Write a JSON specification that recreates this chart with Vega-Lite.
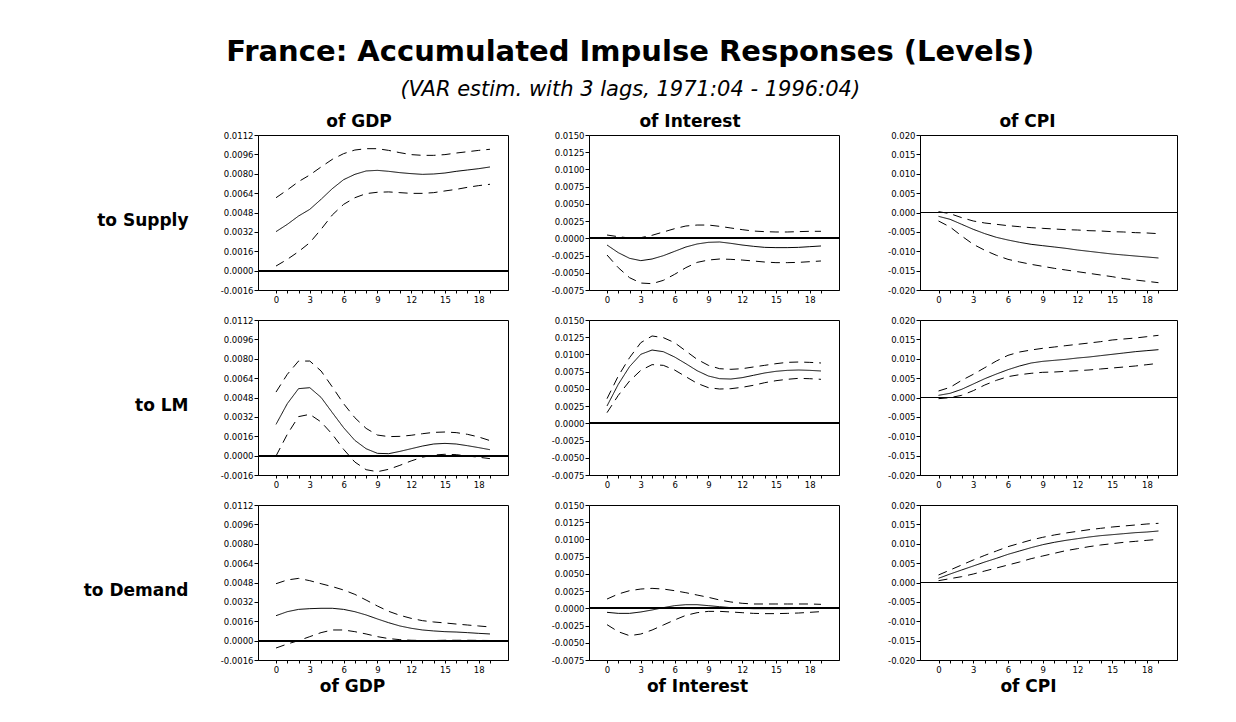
{
  "$schema": "https://vega.github.io/schema/vega-lite/v6.json",
  "padding": {"left": 82, "top": 37, "right": 20, "bottom": 10},
  "background": "white",
  "title": {
    "text": "France: Accumulated Impulse Responses (Levels)",
    "subtitle": "(VAR estim. with 3 lags, 1971:04 - 1996:04)",
    "font": "DejaVu Sans", "fontSize": 29, "fontWeight": "bold", "color": "black",
    "subtitleFont": "DejaVu Sans", "subtitleFontSize": 21, "subtitleFontStyle": "italic", "subtitleColor": "black",
    "anchor": "middle", "offset": 13, "subtitlePadding": 12
  },
  "config": {
    "locale": {"number": {"decimal": ".", "thousands": ",", "grouping": [3], "currency": ["$", ""], "minus": "-"}},
    "view": {"stroke": "black", "strokeWidth": 1},
    "line": {"color": "black", "strokeWidth": 1},
    "rule": {"color": "black", "strokeWidth": 0.7},
    "axis": {"grid": false, "labelOverlap": false, "labelBound": false, "labelFlush": false, "domainColor": "black", "tickColor": "black", "labelColor": "black", "labelFont": "DejaVu Sans", "labelFontSize": 8.5, "titleColor": "black", "titleFont": "DejaVu Sans", "titleFontSize": 17, "titleFontWeight": "bold"},
    "axisY": {"tickSize": 4, "labelPadding": 1, "titleAngle": 0, "titleAlign": "right", "titleBaseline": "middle", "titleX": -70, "titleY": 85},
    "axisX": {"tickSize": 3, "labelPadding": 2, "titleBaseline": "alphabetic", "titleAlign": "center", "titleY": 31}
  },
  "data": {"values": [
    {"r":"Supply","c":"GDP","h":0,"m":0.00322,"lo":0.00038,"hi":0.00602},
    {"r":"Supply","c":"GDP","h":1,"m":0.00382,"lo":0.00093,"hi":0.00666},
    {"r":"Supply","c":"GDP","h":2,"m":0.00451,"lo":0.00157,"hi":0.00735},
    {"r":"Supply","c":"GDP","h":3,"m":0.00506,"lo":0.00231,"hi":0.0079},
    {"r":"Supply","c":"GDP","h":4,"m":0.00589,"lo":0.00341,"hi":0.00856},
    {"r":"Supply","c":"GDP","h":5,"m":0.00677,"lo":0.0046,"hi":0.00919},
    {"r":"Supply","c":"GDP","h":6,"m":0.00751,"lo":0.00547,"hi":0.00966},
    {"r":"Supply","c":"GDP","h":7,"m":0.00795,"lo":0.00602,"hi":0.00996},
    {"r":"Supply","c":"GDP","h":8,"m":0.00823,"lo":0.00636,"hi":0.01007},
    {"r":"Supply","c":"GDP","h":9,"m":0.00828,"lo":0.00647,"hi":0.01007},
    {"r":"Supply","c":"GDP","h":10,"m":0.0082,"lo":0.0065,"hi":0.00993},
    {"r":"Supply","c":"GDP","h":11,"m":0.00809,"lo":0.00644,"hi":0.00974},
    {"r":"Supply","c":"GDP","h":12,"m":0.00801,"lo":0.00638,"hi":0.00958},
    {"r":"Supply","c":"GDP","h":13,"m":0.00795,"lo":0.00638,"hi":0.00952},
    {"r":"Supply","c":"GDP","h":14,"m":0.00798,"lo":0.00644,"hi":0.00952},
    {"r":"Supply","c":"GDP","h":15,"m":0.00806,"lo":0.00658,"hi":0.00958},
    {"r":"Supply","c":"GDP","h":16,"m":0.0082,"lo":0.00671,"hi":0.00971},
    {"r":"Supply","c":"GDP","h":17,"m":0.00831,"lo":0.00688,"hi":0.00982},
    {"r":"Supply","c":"GDP","h":18,"m":0.00842,"lo":0.00702,"hi":0.00993},
    {"r":"Supply","c":"GDP","h":19,"m":0.00856,"lo":0.00713,"hi":0.01002},
    {"r":"Supply","c":"Interest","h":0,"m":-0.00097,"lo":-0.00242,"hi":0.00048},
    {"r":"Supply","c":"Interest","h":1,"m":-0.00208,"lo":-0.00426,"hi":0.00024},
    {"r":"Supply","c":"Interest","h":2,"m":-0.0029,"lo":-0.00571,"hi":0.00005},
    {"r":"Supply","c":"Interest","h":3,"m":-0.00324,"lo":-0.00649,"hi":0.0001},
    {"r":"Supply","c":"Interest","h":4,"m":-0.003,"lo":-0.00658,"hi":0.00044},
    {"r":"Supply","c":"Interest","h":5,"m":-0.00252,"lo":-0.0061,"hi":0.00092},
    {"r":"Supply","c":"Interest","h":6,"m":-0.00189,"lo":-0.00523,"hi":0.0014},
    {"r":"Supply","c":"Interest","h":7,"m":-0.00126,"lo":-0.00426,"hi":0.00179},
    {"r":"Supply","c":"Interest","h":8,"m":-0.00082,"lo":-0.00349,"hi":0.00193},
    {"r":"Supply","c":"Interest","h":9,"m":-0.00058,"lo":-0.00315,"hi":0.00193},
    {"r":"Supply","c":"Interest","h":10,"m":-0.00053,"lo":-0.003,"hi":0.00174},
    {"r":"Supply","c":"Interest","h":11,"m":-0.00073,"lo":-0.00305,"hi":0.0015},
    {"r":"Supply","c":"Interest","h":12,"m":-0.00097,"lo":-0.00315,"hi":0.00126},
    {"r":"Supply","c":"Interest","h":13,"m":-0.00116,"lo":-0.00329,"hi":0.00106},
    {"r":"Supply","c":"Interest","h":14,"m":-0.00131,"lo":-0.00344,"hi":0.00097},
    {"r":"Supply","c":"Interest","h":15,"m":-0.00135,"lo":-0.00353,"hi":0.00092},
    {"r":"Supply","c":"Interest","h":16,"m":-0.00135,"lo":-0.00353,"hi":0.00092},
    {"r":"Supply","c":"Interest","h":17,"m":-0.00131,"lo":-0.00349,"hi":0.00097},
    {"r":"Supply","c":"Interest","h":18,"m":-0.00121,"lo":-0.00339,"hi":0.00102},
    {"r":"Supply","c":"Interest","h":19,"m":-0.00111,"lo":-0.00329,"hi":0.00102},
    {"r":"Supply","c":"CPI","h":0,"m":-0.00099,"lo":-0.00219,"hi":0.00022},
    {"r":"Supply","c":"CPI","h":1,"m":-0.00176,"lo":-0.00374,"hi":-0.0003},
    {"r":"Supply","c":"CPI","h":2,"m":-0.00305,"lo":-0.00606,"hi":-0.00133},
    {"r":"Supply","c":"CPI","h":3,"m":-0.00434,"lo":-0.00821,"hi":-0.00219},
    {"r":"Supply","c":"CPI","h":4,"m":-0.00546,"lo":-0.00976,"hi":-0.00271},
    {"r":"Supply","c":"CPI","h":5,"m":-0.00641,"lo":-0.01105,"hi":-0.00305},
    {"r":"Supply","c":"CPI","h":6,"m":-0.0071,"lo":-0.01209,"hi":-0.0034},
    {"r":"Supply","c":"CPI","h":7,"m":-0.0077,"lo":-0.01277,"hi":-0.00366},
    {"r":"Supply","c":"CPI","h":8,"m":-0.00821,"lo":-0.01338,"hi":-0.00391},
    {"r":"Supply","c":"CPI","h":9,"m":-0.00856,"lo":-0.01389,"hi":-0.00409},
    {"r":"Supply","c":"CPI","h":10,"m":-0.0089,"lo":-0.01441,"hi":-0.00426},
    {"r":"Supply","c":"CPI","h":11,"m":-0.00925,"lo":-0.01484,"hi":-0.00443},
    {"r":"Supply","c":"CPI","h":12,"m":-0.00968,"lo":-0.01527,"hi":-0.00452},
    {"r":"Supply","c":"CPI","h":13,"m":-0.01002,"lo":-0.0157,"hi":-0.00469},
    {"r":"Supply","c":"CPI","h":14,"m":-0.01037,"lo":-0.01613,"hi":-0.00477},
    {"r":"Supply","c":"CPI","h":15,"m":-0.01071,"lo":-0.01656,"hi":-0.00495},
    {"r":"Supply","c":"CPI","h":16,"m":-0.01097,"lo":-0.01707,"hi":-0.00503},
    {"r":"Supply","c":"CPI","h":17,"m":-0.01123,"lo":-0.01742,"hi":-0.0052},
    {"r":"Supply","c":"CPI","h":18,"m":-0.01148,"lo":-0.01776,"hi":-0.00529},
    {"r":"Supply","c":"CPI","h":19,"m":-0.01174,"lo":-0.01811,"hi":-0.00546},
    {"r":"LM","c":"GDP","h":0,"m":0.00258,"lo":-0.00003,"hi":0.00525},
    {"r":"LM","c":"GDP","h":1,"m":0.00429,"lo":0.00176,"hi":0.00671},
    {"r":"LM","c":"GDP","h":2,"m":0.00553,"lo":0.00322,"hi":0.00781},
    {"r":"LM","c":"GDP","h":3,"m":0.00561,"lo":0.00341,"hi":0.00781},
    {"r":"LM","c":"GDP","h":4,"m":0.00481,"lo":0.00278,"hi":0.00699},
    {"r":"LM","c":"GDP","h":5,"m":0.00355,"lo":0.00176,"hi":0.00567},
    {"r":"LM","c":"GDP","h":6,"m":0.00231,"lo":0.00052,"hi":0.00429},
    {"r":"LM","c":"GDP","h":7,"m":0.00126,"lo":-0.00053,"hi":0.00313},
    {"r":"LM","c":"GDP","h":8,"m":0.00057,"lo":-0.00116,"hi":0.00225},
    {"r":"LM","c":"GDP","h":9,"m":0.00019,"lo":-0.00133,"hi":0.0017},
    {"r":"LM","c":"GDP","h":10,"m":0.00016,"lo":-0.00113,"hi":0.00157},
    {"r":"LM","c":"GDP","h":11,"m":0.00035,"lo":-0.0008,"hi":0.00159},
    {"r":"LM","c":"GDP","h":12,"m":0.00057,"lo":-0.00044,"hi":0.00168},
    {"r":"LM","c":"GDP","h":13,"m":0.00079,"lo":-0.00013,"hi":0.00181},
    {"r":"LM","c":"GDP","h":14,"m":0.00096,"lo":0.00005,"hi":0.00192},
    {"r":"LM","c":"GDP","h":15,"m":0.00101,"lo":0.00011,"hi":0.00195},
    {"r":"LM","c":"GDP","h":16,"m":0.00096,"lo":0.00008,"hi":0.0019},
    {"r":"LM","c":"GDP","h":17,"m":0.00082,"lo":-0.00003,"hi":0.00176},
    {"r":"LM","c":"GDP","h":18,"m":0.00066,"lo":-0.00013,"hi":0.00154},
    {"r":"LM","c":"GDP","h":19,"m":0.00049,"lo":-0.00025,"hi":0.00124},
    {"r":"LM","c":"Interest","h":0,"m":0.00252,"lo":0.00155,"hi":0.00358},
    {"r":"LM","c":"Interest","h":1,"m":0.00566,"lo":0.00406,"hi":0.00687},
    {"r":"LM","c":"Interest","h":2,"m":0.00823,"lo":0.00614,"hi":0.00953},
    {"r":"LM","c":"Interest","h":3,"m":0.01002,"lo":0.00769,"hi":0.01171},
    {"r":"LM","c":"Interest","h":4,"m":0.01064,"lo":0.00852,"hi":0.01268},
    {"r":"LM","c":"Interest","h":5,"m":0.0104,"lo":0.00842,"hi":0.01244},
    {"r":"LM","c":"Interest","h":6,"m":0.00963,"lo":0.00774,"hi":0.01171},
    {"r":"LM","c":"Interest","h":7,"m":0.00866,"lo":0.00677,"hi":0.0105},
    {"r":"LM","c":"Interest","h":8,"m":0.00764,"lo":0.00581,"hi":0.00929},
    {"r":"LM","c":"Interest","h":9,"m":0.00687,"lo":0.00518,"hi":0.00842},
    {"r":"LM","c":"Interest","h":10,"m":0.00648,"lo":0.00498,"hi":0.00793},
    {"r":"LM","c":"Interest","h":11,"m":0.00643,"lo":0.00503,"hi":0.00784},
    {"r":"LM","c":"Interest","h":12,"m":0.00663,"lo":0.00523,"hi":0.00793},
    {"r":"LM","c":"Interest","h":13,"m":0.00697,"lo":0.00552,"hi":0.00818},
    {"r":"LM","c":"Interest","h":14,"m":0.00731,"lo":0.0059,"hi":0.00842},
    {"r":"LM","c":"Interest","h":15,"m":0.00755,"lo":0.00619,"hi":0.00866},
    {"r":"LM","c":"Interest","h":16,"m":0.00769,"lo":0.00639,"hi":0.00885},
    {"r":"LM","c":"Interest","h":17,"m":0.00774,"lo":0.00653,"hi":0.0089},
    {"r":"LM","c":"Interest","h":18,"m":0.00769,"lo":0.00648,"hi":0.00885},
    {"r":"LM","c":"Interest","h":19,"m":0.0076,"lo":0.00639,"hi":0.00876},
    {"r":"LM","c":"CPI","h":0,"m":0.00056,"lo":-0.0003,"hi":0.00168},
    {"r":"LM","c":"CPI","h":1,"m":0.00108,"lo":-0.00004,"hi":0.00262},
    {"r":"LM","c":"CPI","h":2,"m":0.00211,"lo":0.00056,"hi":0.00443},
    {"r":"LM","c":"CPI","h":3,"m":0.00348,"lo":0.00176,"hi":0.00598},
    {"r":"LM","c":"CPI","h":4,"m":0.00486,"lo":0.00323,"hi":0.0077},
    {"r":"LM","c":"CPI","h":5,"m":0.00606,"lo":0.00443,"hi":0.00942},
    {"r":"LM","c":"CPI","h":6,"m":0.00718,"lo":0.00538,"hi":0.01088},
    {"r":"LM","c":"CPI","h":7,"m":0.00813,"lo":0.00589,"hi":0.01174},
    {"r":"LM","c":"CPI","h":8,"m":0.0089,"lo":0.00624,"hi":0.01226},
    {"r":"LM","c":"CPI","h":9,"m":0.00933,"lo":0.0065,"hi":0.01269},
    {"r":"LM","c":"CPI","h":10,"m":0.00959,"lo":0.00658,"hi":0.01303},
    {"r":"LM","c":"CPI","h":11,"m":0.00985,"lo":0.00675,"hi":0.01338},
    {"r":"LM","c":"CPI","h":12,"m":0.01019,"lo":0.00692,"hi":0.01372},
    {"r":"LM","c":"CPI","h":13,"m":0.01045,"lo":0.0071,"hi":0.01406},
    {"r":"LM","c":"CPI","h":14,"m":0.0108,"lo":0.00736,"hi":0.01441},
    {"r":"LM","c":"CPI","h":15,"m":0.01114,"lo":0.00761,"hi":0.01484},
    {"r":"LM","c":"CPI","h":16,"m":0.01148,"lo":0.00787,"hi":0.0151},
    {"r":"LM","c":"CPI","h":17,"m":0.01183,"lo":0.00813,"hi":0.01535},
    {"r":"LM","c":"CPI","h":18,"m":0.01209,"lo":0.00847,"hi":0.0157},
    {"r":"LM","c":"CPI","h":19,"m":0.01234,"lo":0.00882,"hi":0.01604},
    {"r":"Demand","c":"GDP","h":0,"m":0.00206,"lo":-0.00061,"hi":0.0047},
    {"r":"Demand","c":"GDP","h":1,"m":0.00239,"lo":-0.00028,"hi":0.00501},
    {"r":"Demand","c":"GDP","h":2,"m":0.00258,"lo":0.0,"hi":0.00514},
    {"r":"Demand","c":"GDP","h":3,"m":0.00264,"lo":0.00033,"hi":0.00495},
    {"r":"Demand","c":"GDP","h":4,"m":0.00267,"lo":0.00066,"hi":0.0047},
    {"r":"Demand","c":"GDP","h":5,"m":0.00267,"lo":0.00088,"hi":0.00446},
    {"r":"Demand","c":"GDP","h":6,"m":0.00258,"lo":0.00088,"hi":0.00418},
    {"r":"Demand","c":"GDP","h":7,"m":0.00239,"lo":0.00074,"hi":0.00382},
    {"r":"Demand","c":"GDP","h":8,"m":0.00212,"lo":0.00055,"hi":0.00335},
    {"r":"Demand","c":"GDP","h":9,"m":0.00179,"lo":0.00033,"hi":0.00286},
    {"r":"Demand","c":"GDP","h":10,"m":0.00148,"lo":0.00017,"hi":0.00242},
    {"r":"Demand","c":"GDP","h":11,"m":0.00121,"lo":0.00008,"hi":0.00209},
    {"r":"Demand","c":"GDP","h":12,"m":0.00102,"lo":0.00003,"hi":0.00184},
    {"r":"Demand","c":"GDP","h":13,"m":0.00088,"lo":0.00001,"hi":0.00165},
    {"r":"Demand","c":"GDP","h":14,"m":0.0008,"lo":0.00001,"hi":0.00154},
    {"r":"Demand","c":"GDP","h":15,"m":0.00074,"lo":0.00003,"hi":0.00146},
    {"r":"Demand","c":"GDP","h":16,"m":0.00071,"lo":0.00003,"hi":0.00137},
    {"r":"Demand","c":"GDP","h":17,"m":0.00066,"lo":0.00003,"hi":0.00129},
    {"r":"Demand","c":"GDP","h":18,"m":0.0006,"lo":0.00002,"hi":0.00121},
    {"r":"Demand","c":"GDP","h":19,"m":0.00055,"lo":0.00001,"hi":0.00113},
    {"r":"Demand","c":"Interest","h":0,"m":-0.00058,"lo":-0.00237,"hi":0.00135},
    {"r":"Demand","c":"Interest","h":1,"m":-0.00073,"lo":-0.00339,"hi":0.00208},
    {"r":"Demand","c":"Interest","h":2,"m":-0.00073,"lo":-0.00397,"hi":0.00256},
    {"r":"Demand","c":"Interest","h":3,"m":-0.00053,"lo":-0.00373,"hi":0.0028},
    {"r":"Demand","c":"Interest","h":4,"m":-0.00024,"lo":-0.00315,"hi":0.0029},
    {"r":"Demand","c":"Interest","h":5,"m":0.0001,"lo":-0.00242,"hi":0.0028},
    {"r":"Demand","c":"Interest","h":6,"m":0.00039,"lo":-0.00169,"hi":0.00256},
    {"r":"Demand","c":"Interest","h":7,"m":0.00053,"lo":-0.00102,"hi":0.00227},
    {"r":"Demand","c":"Interest","h":8,"m":0.00053,"lo":-0.00063,"hi":0.00193},
    {"r":"Demand","c":"Interest","h":9,"m":0.00039,"lo":-0.00044,"hi":0.0016},
    {"r":"Demand","c":"Interest","h":10,"m":0.00024,"lo":-0.00044,"hi":0.00121},
    {"r":"Demand","c":"Interest","h":11,"m":0.0001,"lo":-0.00053,"hi":0.00092},
    {"r":"Demand","c":"Interest","h":12,"m":0.0,"lo":-0.00063,"hi":0.00073},
    {"r":"Demand","c":"Interest","h":13,"m":-0.00005,"lo":-0.00073,"hi":0.00063},
    {"r":"Demand","c":"Interest","h":14,"m":-0.00005,"lo":-0.00077,"hi":0.00063},
    {"r":"Demand","c":"Interest","h":15,"m":-0.00005,"lo":-0.00077,"hi":0.00063},
    {"r":"Demand","c":"Interest","h":16,"m":-0.00005,"lo":-0.00073,"hi":0.00063},
    {"r":"Demand","c":"Interest","h":17,"m":0.0,"lo":-0.00068,"hi":0.00063},
    {"r":"Demand","c":"Interest","h":18,"m":0.0,"lo":-0.00058,"hi":0.00063},
    {"r":"Demand","c":"Interest","h":19,"m":0.00005,"lo":-0.00048,"hi":0.00058},
    {"r":"Demand","c":"CPI","h":0,"m":0.00108,"lo":0.00047,"hi":0.00194},
    {"r":"Demand","c":"CPI","h":1,"m":0.00219,"lo":0.00099,"hi":0.00323},
    {"r":"Demand","c":"CPI","h":2,"m":0.00323,"lo":0.00151,"hi":0.00452},
    {"r":"Demand","c":"CPI","h":3,"m":0.00426,"lo":0.00219,"hi":0.00581},
    {"r":"Demand","c":"CPI","h":4,"m":0.00529,"lo":0.00297,"hi":0.00701},
    {"r":"Demand","c":"CPI","h":5,"m":0.00624,"lo":0.00374,"hi":0.00813},
    {"r":"Demand","c":"CPI","h":6,"m":0.00727,"lo":0.00452,"hi":0.00925},
    {"r":"Demand","c":"CPI","h":7,"m":0.00813,"lo":0.00529,"hi":0.01011},
    {"r":"Demand","c":"CPI","h":8,"m":0.00899,"lo":0.00615,"hi":0.01097},
    {"r":"Demand","c":"CPI","h":9,"m":0.00976,"lo":0.00684,"hi":0.01166},
    {"r":"Demand","c":"CPI","h":10,"m":0.01037,"lo":0.00753,"hi":0.01226},
    {"r":"Demand","c":"CPI","h":11,"m":0.01088,"lo":0.00822,"hi":0.01277},
    {"r":"Demand","c":"CPI","h":12,"m":0.01131,"lo":0.00873,"hi":0.0132},
    {"r":"Demand","c":"CPI","h":13,"m":0.01174,"lo":0.00925,"hi":0.01363},
    {"r":"Demand","c":"CPI","h":14,"m":0.01209,"lo":0.00968,"hi":0.01398},
    {"r":"Demand","c":"CPI","h":15,"m":0.01234,"lo":0.01002,"hi":0.01432},
    {"r":"Demand","c":"CPI","h":16,"m":0.0126,"lo":0.01037,"hi":0.01458},
    {"r":"Demand","c":"CPI","h":17,"m":0.01286,"lo":0.01062,"hi":0.01484},
    {"r":"Demand","c":"CPI","h":18,"m":0.01303,"lo":0.01088,"hi":0.0151},
    {"r":"Demand","c":"CPI","h":19,"m":0.01329,"lo":0.01114,"hi":0.01527}
  ]},
  "bounds": "flush",
  "columns": 3,
  "spacing": {"row": 30, "column": 81},
  "concat": [
    {"width": 250, "height": 155,
     "title": {"text": "of GDP", "font": "DejaVu Sans", "fontSize": 17, "fontWeight": "bold", "color": "black", "anchor": "middle", "dx": -24, "offset": 0},
     "transform": [{"filter": "datum.r == 'Supply' && datum.c == 'GDP'"}, {"fold": ["hi", "m", "lo"], "as": ["s", "v"]}],
     "layer": [
       {"mark": "rule", "encoding": {"y": {"datum": 0, "type": "quantitative"}}},
       {"mark": "line", "encoding": {
         "x": {"field": "h", "type": "quantitative", "scale": {"domain": [-1.6, 20.6], "nice": false, "zero": false}, "axis": {"title": null, "tickCount": 40, "format": "d", "values": [0,1,2,3,4,5,6,7,8,9,10,11,12,13,14,15,16,17,18,19], "labelExpr": "datum.value % 3 == 0 ? datum.label : ''"}},
         "y": {"field": "v", "type": "quantitative", "scale": {"domain": [-0.0016, 0.0112], "nice": false, "zero": false}, "axis": {"title": "to Supply", "tickCount": 40, "values": [-0.0016, 0, 0.0016, 0.0032, 0.0048, 0.0064, 0.008, 0.0096, 0.0112], "format": ".4f"}},
         "strokeDash": {"field": "s", "type": "nominal", "scale": {"domain": ["m", "hi", "lo"], "range": [[1, 0], [9, 6], [9, 6]]}, "legend": null}
       }}
     ]},
    {"width": 250, "height": 155,
     "title": {"text": "of Interest", "font": "DejaVu Sans", "fontSize": 17, "fontWeight": "bold", "color": "black", "anchor": "middle", "dx": -24, "offset": 0},
     "transform": [{"filter": "datum.r == 'Supply' && datum.c == 'Interest'"}, {"fold": ["hi", "m", "lo"], "as": ["s", "v"]}],
     "layer": [
       {"mark": "rule", "encoding": {"y": {"datum": 0, "type": "quantitative"}}},
       {"mark": "line", "encoding": {
         "x": {"field": "h", "type": "quantitative", "scale": {"domain": [-1.6, 20.6], "nice": false, "zero": false}, "axis": {"title": null, "tickCount": 40, "format": "d", "values": [0,1,2,3,4,5,6,7,8,9,10,11,12,13,14,15,16,17,18,19], "labelExpr": "datum.value % 3 == 0 ? datum.label : ''"}},
         "y": {"field": "v", "type": "quantitative", "scale": {"domain": [-0.0075, 0.015], "nice": false, "zero": false}, "axis": {"title": null, "tickCount": 40, "values": [-0.0075, -0.005, -0.0025, 0, 0.0025, 0.005, 0.0075, 0.01, 0.0125, 0.015], "format": ".4f"}},
         "strokeDash": {"field": "s", "type": "nominal", "scale": {"domain": ["m", "hi", "lo"], "range": [[1, 0], [9, 6], [9, 6]]}, "legend": null}
       }}
     ]},
    {"width": 257, "height": 155,
     "title": {"text": "of CPI", "font": "DejaVu Sans", "fontSize": 17, "fontWeight": "bold", "color": "black", "anchor": "middle", "dx": -21, "offset": 0},
     "transform": [{"filter": "datum.r == 'Supply' && datum.c == 'CPI'"}, {"fold": ["hi", "m", "lo"], "as": ["s", "v"]}],
     "layer": [
       {"mark": "rule", "encoding": {"y": {"datum": 0, "type": "quantitative"}}},
       {"mark": "line", "encoding": {
         "x": {"field": "h", "type": "quantitative", "scale": {"domain": [-1.6, 20.6], "nice": false, "zero": false}, "axis": {"title": null, "tickCount": 40, "format": "d", "values": [0,1,2,3,4,5,6,7,8,9,10,11,12,13,14,15,16,17,18,19], "labelExpr": "datum.value % 3 == 0 ? datum.label : ''"}},
         "y": {"field": "v", "type": "quantitative", "scale": {"domain": [-0.02, 0.02], "nice": false, "zero": false}, "axis": {"title": null, "tickCount": 40, "values": [-0.02, -0.015, -0.01, -0.005, 0, 0.005, 0.01, 0.015, 0.02], "format": ".3f"}},
         "strokeDash": {"field": "s", "type": "nominal", "scale": {"domain": ["m", "hi", "lo"], "range": [[1, 0], [9, 6], [9, 6]]}, "legend": null}
       }}
     ]},
    {"width": 250, "height": 155,
     "transform": [{"filter": "datum.r == 'LM' && datum.c == 'GDP'"}, {"fold": ["hi", "m", "lo"], "as": ["s", "v"]}],
     "layer": [
       {"mark": "rule", "encoding": {"y": {"datum": 0, "type": "quantitative"}}},
       {"mark": "line", "encoding": {
         "x": {"field": "h", "type": "quantitative", "scale": {"domain": [-1.6, 20.6], "nice": false, "zero": false}, "axis": {"title": null, "tickCount": 40, "format": "d", "values": [0,1,2,3,4,5,6,7,8,9,10,11,12,13,14,15,16,17,18,19], "labelExpr": "datum.value % 3 == 0 ? datum.label : ''"}},
         "y": {"field": "v", "type": "quantitative", "scale": {"domain": [-0.0016, 0.0112], "nice": false, "zero": false}, "axis": {"title": "to LM", "tickCount": 40, "values": [-0.0016, 0, 0.0016, 0.0032, 0.0048, 0.0064, 0.008, 0.0096, 0.0112], "format": ".4f"}},
         "strokeDash": {"field": "s", "type": "nominal", "scale": {"domain": ["m", "hi", "lo"], "range": [[1, 0], [9, 6], [9, 6]]}, "legend": null}
       }}
     ]},
    {"width": 250, "height": 155,
     "transform": [{"filter": "datum.r == 'LM' && datum.c == 'Interest'"}, {"fold": ["hi", "m", "lo"], "as": ["s", "v"]}],
     "layer": [
       {"mark": "rule", "encoding": {"y": {"datum": 0, "type": "quantitative"}}},
       {"mark": "line", "encoding": {
         "x": {"field": "h", "type": "quantitative", "scale": {"domain": [-1.6, 20.6], "nice": false, "zero": false}, "axis": {"title": null, "tickCount": 40, "format": "d", "values": [0,1,2,3,4,5,6,7,8,9,10,11,12,13,14,15,16,17,18,19], "labelExpr": "datum.value % 3 == 0 ? datum.label : ''"}},
         "y": {"field": "v", "type": "quantitative", "scale": {"domain": [-0.0075, 0.015], "nice": false, "zero": false}, "axis": {"title": null, "tickCount": 40, "values": [-0.0075, -0.005, -0.0025, 0, 0.0025, 0.005, 0.0075, 0.01, 0.0125, 0.015], "format": ".4f"}},
         "strokeDash": {"field": "s", "type": "nominal", "scale": {"domain": ["m", "hi", "lo"], "range": [[1, 0], [9, 6], [9, 6]]}, "legend": null}
       }}
     ]},
    {"width": 257, "height": 155,
     "transform": [{"filter": "datum.r == 'LM' && datum.c == 'CPI'"}, {"fold": ["hi", "m", "lo"], "as": ["s", "v"]}],
     "layer": [
       {"mark": "rule", "encoding": {"y": {"datum": 0, "type": "quantitative"}}},
       {"mark": "line", "encoding": {
         "x": {"field": "h", "type": "quantitative", "scale": {"domain": [-1.6, 20.6], "nice": false, "zero": false}, "axis": {"title": null, "tickCount": 40, "format": "d", "values": [0,1,2,3,4,5,6,7,8,9,10,11,12,13,14,15,16,17,18,19], "labelExpr": "datum.value % 3 == 0 ? datum.label : ''"}},
         "y": {"field": "v", "type": "quantitative", "scale": {"domain": [-0.02, 0.02], "nice": false, "zero": false}, "axis": {"title": null, "tickCount": 40, "values": [-0.02, -0.015, -0.01, -0.005, 0, 0.005, 0.01, 0.015, 0.02], "format": ".3f"}},
         "strokeDash": {"field": "s", "type": "nominal", "scale": {"domain": ["m", "hi", "lo"], "range": [[1, 0], [9, 6], [9, 6]]}, "legend": null}
       }}
     ]},
    {"width": 250, "height": 155,
     "transform": [{"filter": "datum.r == 'Demand' && datum.c == 'GDP'"}, {"fold": ["hi", "m", "lo"], "as": ["s", "v"]}],
     "layer": [
       {"mark": "rule", "encoding": {"y": {"datum": 0, "type": "quantitative"}}},
       {"mark": "line", "encoding": {
         "x": {"field": "h", "type": "quantitative", "scale": {"domain": [-1.6, 20.6], "nice": false, "zero": false}, "axis": {"title": "of GDP", "titleX": 94, "tickCount": 40, "format": "d", "values": [0,1,2,3,4,5,6,7,8,9,10,11,12,13,14,15,16,17,18,19], "labelExpr": "datum.value % 3 == 0 ? datum.label : ''"}},
         "y": {"field": "v", "type": "quantitative", "scale": {"domain": [-0.0016, 0.0112], "nice": false, "zero": false}, "axis": {"title": "to Demand", "tickCount": 40, "values": [-0.0016, 0, 0.0016, 0.0032, 0.0048, 0.0064, 0.008, 0.0096, 0.0112], "format": ".4f"}},
         "strokeDash": {"field": "s", "type": "nominal", "scale": {"domain": ["m", "hi", "lo"], "range": [[1, 0], [9, 6], [9, 6]]}, "legend": null}
       }}
     ]},
    {"width": 250, "height": 155,
     "transform": [{"filter": "datum.r == 'Demand' && datum.c == 'Interest'"}, {"fold": ["hi", "m", "lo"], "as": ["s", "v"]}],
     "layer": [
       {"mark": "rule", "encoding": {"y": {"datum": 0, "type": "quantitative"}}},
       {"mark": "line", "encoding": {
         "x": {"field": "h", "type": "quantitative", "scale": {"domain": [-1.6, 20.6], "nice": false, "zero": false}, "axis": {"title": "of Interest", "titleX": 108, "tickCount": 40, "format": "d", "values": [0,1,2,3,4,5,6,7,8,9,10,11,12,13,14,15,16,17,18,19], "labelExpr": "datum.value % 3 == 0 ? datum.label : ''"}},
         "y": {"field": "v", "type": "quantitative", "scale": {"domain": [-0.0075, 0.015], "nice": false, "zero": false}, "axis": {"title": null, "tickCount": 40, "values": [-0.0075, -0.005, -0.0025, 0, 0.0025, 0.005, 0.0075, 0.01, 0.0125, 0.015], "format": ".4f"}},
         "strokeDash": {"field": "s", "type": "nominal", "scale": {"domain": ["m", "hi", "lo"], "range": [[1, 0], [9, 6], [9, 6]]}, "legend": null}
       }}
     ]},
    {"width": 257, "height": 155,
     "transform": [{"filter": "datum.r == 'Demand' && datum.c == 'CPI'"}, {"fold": ["hi", "m", "lo"], "as": ["s", "v"]}],
     "layer": [
       {"mark": "rule", "encoding": {"y": {"datum": 0, "type": "quantitative"}}},
       {"mark": "line", "encoding": {
         "x": {"field": "h", "type": "quantitative", "scale": {"domain": [-1.6, 20.6], "nice": false, "zero": false}, "axis": {"title": "of CPI", "titleX": 108, "tickCount": 40, "format": "d", "values": [0,1,2,3,4,5,6,7,8,9,10,11,12,13,14,15,16,17,18,19], "labelExpr": "datum.value % 3 == 0 ? datum.label : ''"}},
         "y": {"field": "v", "type": "quantitative", "scale": {"domain": [-0.02, 0.02], "nice": false, "zero": false}, "axis": {"title": null, "tickCount": 40, "values": [-0.02, -0.015, -0.01, -0.005, 0, 0.005, 0.01, 0.015, 0.02], "format": ".3f"}},
         "strokeDash": {"field": "s", "type": "nominal", "scale": {"domain": ["m", "hi", "lo"], "range": [[1, 0], [9, 6], [9, 6]]}, "legend": null}
       }}
     ]}
  ]
}
